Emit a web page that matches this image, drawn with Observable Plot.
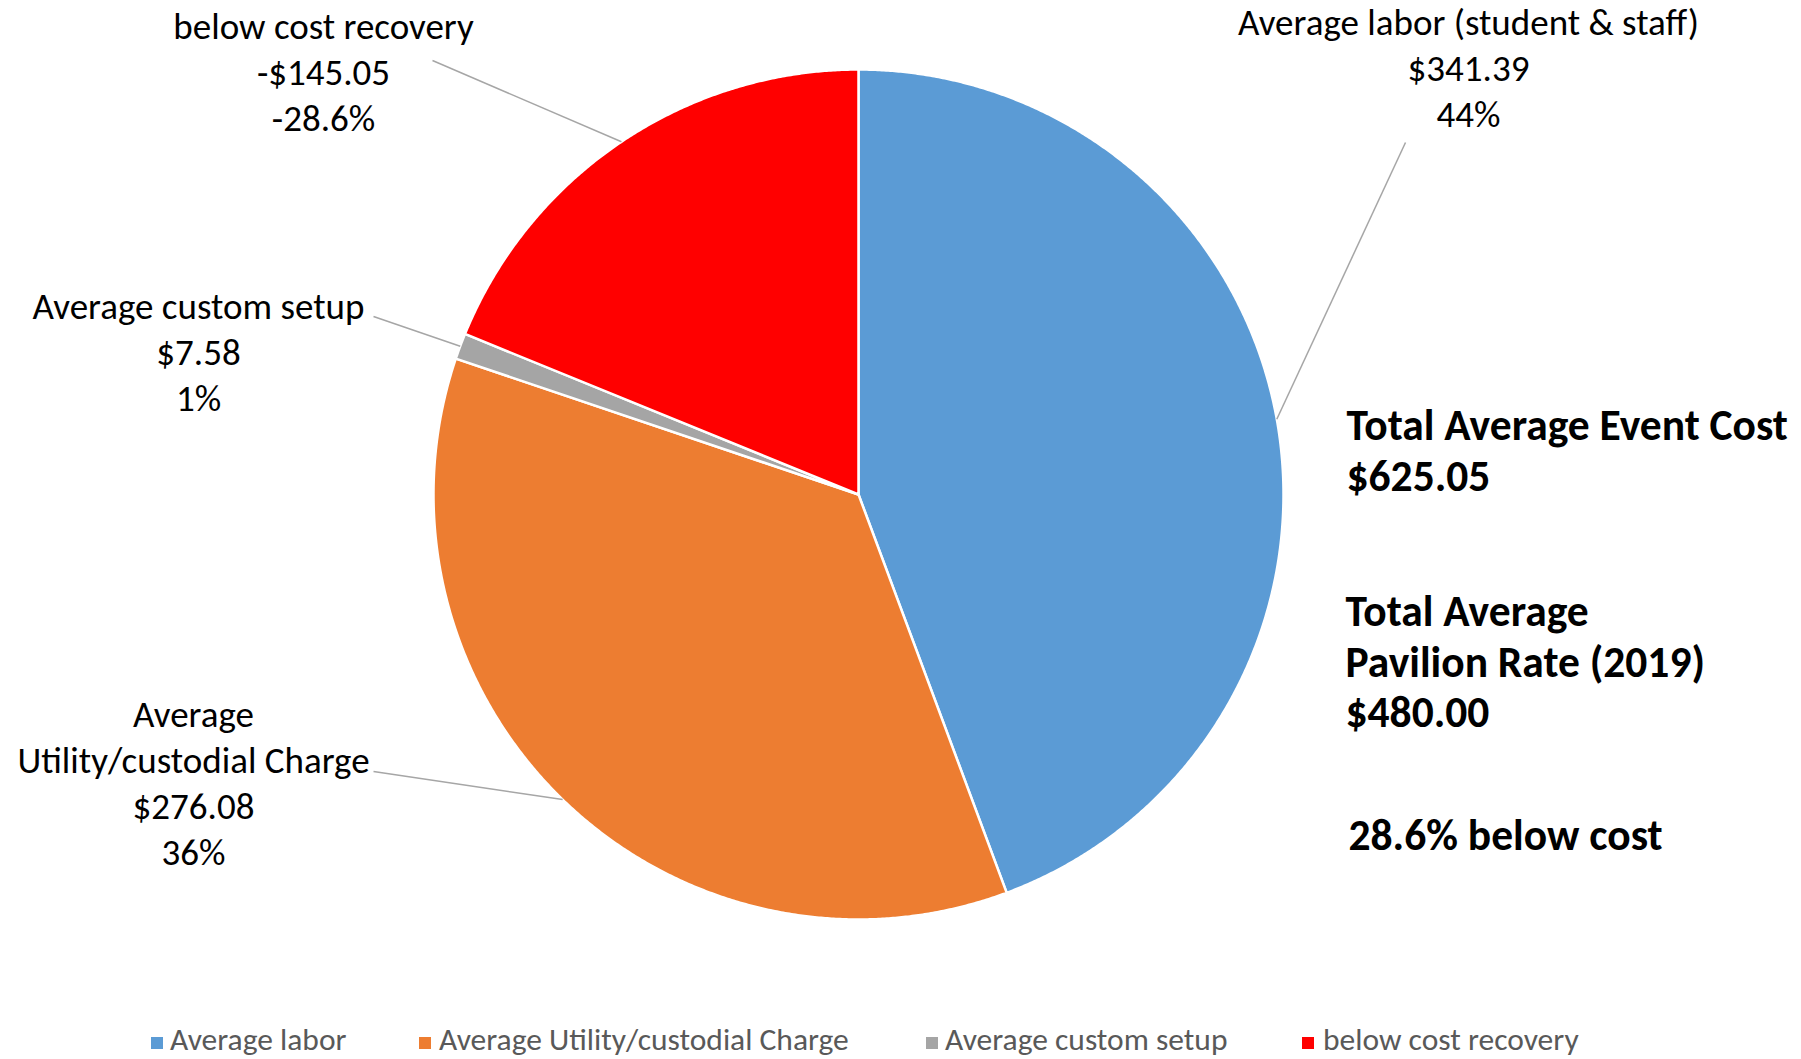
<!DOCTYPE html>
<html>
<head>
<meta charset="utf-8">
<script src="https://cdn.jsdelivr.net/npm/d3@7"></script>
<script src="https://cdn.jsdelivr.net/npm/@observablehq/plot@0.6"></script>
<style>
  html, body { margin: 0; padding: 0; background: #fff; overflow: hidden; }
  #chart svg { display: block; }
  #legend { position: relative; height: 49px; overflow: hidden; width: 1801px;
    font-family: Carlito, Calibri, Lato, sans-serif; font-size: 31.5px; color: #595959; }
  #legend .item { position: absolute; top: 12px; line-height: 34px; white-space: nowrap; }
  #legend .sw { position: absolute; width: 12px; height: 12px; top: 27px; }
</style>
</head>
<body>
<div id="chart"></div>
<div id="legend"></div>
<script>
// ---- data ----
const categories = ["Average labor", "Average Utility/custodial Charge", "Average custom setup", "below cost recovery"];
const values = [341.39, 276.08, 7.58, 145.05];
const labelTitles = ["Average labor (student & staff)", "Average\nUtility/custodial Charge", "Average custom setup", "below cost recovery"];
const valueLabels = ["$341.39", "$276.08", "$7.58", "-$145.05"];
const percentLabels = ["44%", "36%", "1%", "-28.6%"];
const summaryBlocks = ["Total Average Event Cost\n$625.05", "Total Average\nPavilion Rate (2019)\n$480.00", "28.6% below cost"];

// ---- styling / layout ----
const colors = ["#5B9BD5", "#ED7D31", "#A5A5A5", "#FF0000"];
const W = 1801, H = 1010;
const pie = {cx: 858, cy: 494, r: 425};
const labelLayout = [
  {x: 1468, y: 66, lx: 1405, ly: 142},
  {x: 193, y: 781, lx: 373, ly: 771},
  {x: 198, y: 349.5, lx: 373, ly: 316},
  {x: 323, y: 69.5, lx: 432, ly: 60}
];
const summaryLayout = [{x: 1346, y: 449}, {x: 1345, y: 660}, {x: 1348, y: 833}];
const legendLayout = [{sq: 151, tx: 170}, {sq: 419, tx: 439}, {sq: 926, tx: 945}, {sq: 1302, tx: 1323}];
const font = "Carlito, Calibri, Lato, sans-serif";

const data = categories.map((c, i) => ({name: c, value: values[i]}));
const arcs = d3.pie().sort(null).value(d => d.value)(data);

// slice polygons in pixel-space data units
const polys = [];
arcs.forEach(a => {
  const name = a.data.name;
  polys.push({name, x: pie.cx, y: pie.cy});
  const n = Math.max(2, Math.ceil((a.endAngle - a.startAngle) / 0.005));
  for (let k = 0; k <= n; k++) {
    const t = a.startAngle + (a.endAngle - a.startAngle) * k / n;
    polys.push({name, x: pie.cx + pie.r * Math.sin(t), y: pie.cy - pie.r * Math.cos(t)});
  }
  polys.push({name, x: pie.cx, y: pie.cy});
});

const labels = arcs.map((a, i) => {
  const mid = (a.startAngle + a.endAngle) / 2;
  return {
    text: labelTitles[i] + "\n" + valueLabels[i] + "\n" + percentLabels[i],
    x: labelLayout[i].x, y: labelLayout[i].y,
    lx: labelLayout[i].lx, ly: labelLayout[i].ly,
    ex: pie.cx + pie.r * Math.sin(mid), ey: pie.cy - pie.r * Math.cos(mid)
  };
});
const summaries = summaryBlocks.map((t, i) => ({text: t, ...summaryLayout[i]}));

const chart = Plot.plot({
  width: W, height: H, margin: 0,
  style: {fontFamily: font, background: "#fff", overflow: "visible"},
  x: {domain: [0, W], range: [0, W], axis: null},
  y: {domain: [0, H], range: [0, H], axis: null},
  color: {domain: categories, range: colors},
  marks: [
    Plot.line(polys, {x: "x", y: "y", z: "name", fill: "name", stroke: "white", strokeWidth: 2.5, strokeLinejoin: "round", curve: "linear"}),
    Plot.link(labels, {x1: "lx", y1: "ly", x2: "ex", y2: "ey", stroke: "#a6a6a6", strokeWidth: 1.5}),
    Plot.text(labels, {x: "x", y: "y", text: "text", fontSize: 37, lineHeight: 46 / 37, fill: "black", textAnchor: "middle", lineAnchor: "middle"}),
    Plot.text(summaries, {x: "x", y: "y", text: "text", fontSize: 43.5, fontWeight: "bold", lineHeight: 50.5 / 43.5, fill: "black", textAnchor: "start", lineAnchor: "middle"})
  ]
});
document.getElementById("chart").appendChild(chart);

const legend = document.getElementById("legend");
categories.forEach((c, i) => {
  const sw = document.createElement("div");
  sw.className = "sw";
  sw.style.left = legendLayout[i].sq + "px";
  sw.style.background = colors[i];
  legend.appendChild(sw);
  const t = document.createElement("div");
  t.className = "item";
  t.style.left = legendLayout[i].tx + "px";
  t.textContent = c;
  legend.appendChild(t);
});
</script>
</body>
</html>
